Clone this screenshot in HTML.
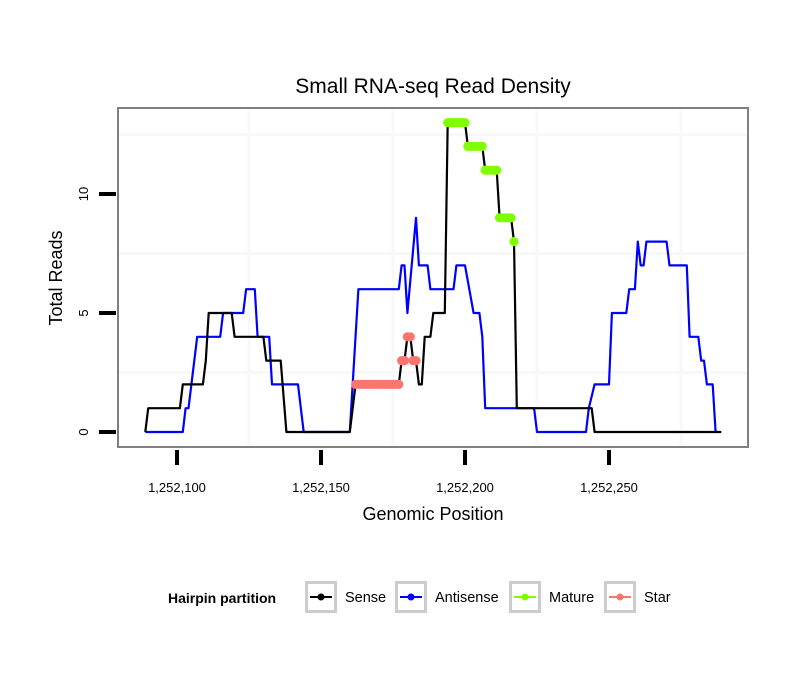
<!DOCTYPE html>
<html><head><meta charset="utf-8"><style>
body{margin:0;background:#fff}
svg{display:block;font-family:"Liberation Sans",sans-serif}
</style></head><body>
<svg id="chart" width="810" height="690">
<rect width="810" height="690" fill="#fff"/>
<text x="433" y="93" font-size="21" text-anchor="middle">Small RNA-seq Read Density</text>
<g id="grid"></g>
<g id="series"></g>
<rect x="118" y="108" width="630" height="339" fill="none" stroke="#808080" stroke-width="2"/>
<g id="axes"></g>
<text x="433" y="520" font-size="18" text-anchor="middle">Genomic Position</text>
<text transform="translate(62,278) rotate(-90)" font-size="18" text-anchor="middle">Total Reads</text>
<g>
<text x="168" y="603" font-size="14" font-weight="bold">Hairpin partition</text>
<g id="legend-entries"></g>
</g>
</svg>
<script>
const xTicks=[1252100,1252150,1252200,1252250];
const xTickLabels=["1,252,100","1,252,150","1,252,200","1,252,250"];
const yTicks=[0,5,10];
const yTickLabels=["0","5","10"];
const xGrid=[1252125,1252175,1252225,1252275];
const yGrid=[2.5,7.5,12.5];
const senseX=[1252089,1252090,1252101,1252102,1252109,1252110,1252111,1252119,1252120,1252130,1252131,1252136,1252138,1252160,1252162,1252177,1252178,1252179,1252180,1252181,1252182,1252183,1252184,1252185,1252186,1252188,1252189,1252193,1252194,1252200,1252201,1252206,1252207,1252211,1252212,1252216,1252217,1252218,1252244,1252245,1252289];
const senseY=[0,1,1,2,2,3,5,5,4,4,3,3,0,0,2,2,3,3,4,4,3,3,2,2,4,4,5,5,13,13,12,12,11,11,9,9,8,1,1,0,0];
const antiX=[1252089,1252102,1252103,1252104,1252107,1252115,1252116,1252123,1252124,1252127,1252128,1252132,1252133,1252142,1252144,1252160,1252163,1252177,1252178,1252179,1252180,1252183,1252184,1252187,1252188,1252196,1252197,1252200,1252203,1252205,1252206,1252207,1252224,1252225,1252242,1252243,1252245,1252250,1252251,1252256,1252257,1252259,1252260,1252261,1252262,1252263,1252270,1252271,1252277,1252278,1252281,1252282,1252283,1252284,1252286,1252287];
const antiY=[0,0,1,1,4,4,5,5,6,6,4,4,2,2,0,0,6,6,7,7,5,9,7,7,6,6,7,7,5,5,4,1,1,0,0,1,2,2,5,5,6,6,8,7,7,8,8,7,7,4,4,3,3,2,2,0];
const matureX=[1252194,1252195,1252196,1252197,1252198,1252199,1252200,1252201,1252202,1252203,1252204,1252205,1252206,1252207,1252208,1252209,1252210,1252211,1252212,1252213,1252214,1252215,1252216,1252217];
const matureY=[13,13,13,13,13,13,13,12,12,12,12,12,12,11,11,11,11,11,9,9,9,9,9,8];
const starX=[1252162,1252163,1252164,1252165,1252166,1252167,1252168,1252169,1252170,1252171,1252172,1252173,1252174,1252175,1252176,1252177,1252178,1252179,1252180,1252181,1252182,1252183];
const starY=[2,2,2,2,2,2,2,2,2,2,2,2,2,2,2,2,3,3,4,4,3,3];
const legendLabels=["Sense","Antisense","Mature","Star"];
const legendColors=["#000000","#0000ff","#7fff00","#f8766d"];

const NS="http://www.w3.org/2000/svg";
function X(v){return 177+(v-1252100)*2.88;}
function Y(v){return 432-v*23.8;}
function mk(tag,attrs,parent){const e=document.createElementNS(NS,tag);for(const k in attrs)e.setAttribute(k,attrs[k]);parent.appendChild(e);return e;}
const grid=document.getElementById('grid'),series=document.getElementById('series'),axes=document.getElementById('axes'),leg=document.getElementById('legend-entries');
xGrid.forEach(v=>{const l=mk('line',{x1:X(v),x2:X(v),y1:109,y2:446,stroke:'#f8f8f8','stroke-width':3},grid);

});
yGrid.forEach(v=>{const l=mk('line',{x1:119,x2:747,y1:Y(v),y2:Y(v),stroke:'#f8f8f8','stroke-width':3},grid);

});
function line(xs,ys,color,name){const p=xs.map((x,i)=>X(x).toFixed(1)+','+Y(ys[i]).toFixed(1)).join(' ');
const e=mk('polyline',{points:p,fill:'none',stroke:color,'stroke-width':2.2,'stroke-linejoin':'round'},series);

}
function dots(xs,ys,color,name){const g=mk('g',{},series);


xs.forEach((x,i)=>{const c=mk('circle',{cx:X(x),cy:Y(ys[i]),r:4.6,fill:color},g);

});}
line(antiX,antiY,'#0000ff','antisense-line');
line(senseX,senseY,'#000000','sense-line');
dots(matureX,matureY,'#7fff00','mature-points');
dots(starX,starY,'#f8766d','star-points');
xTicks.forEach((v,i)=>{const t=mk('line',{x1:X(v),x2:X(v),y1:450,y2:465,stroke:'#000','stroke-width':4},axes);


const s=mk('text',{x:X(v),y:492,'font-size':13,'text-anchor':'middle'},axes);s.textContent=xTickLabels[i];

});
yTicks.forEach((v,i)=>{const t=mk('line',{x1:99,x2:116,y1:Y(v),y2:Y(v),stroke:'#000','stroke-width':4},axes);


const s=mk('text',{transform:`translate(88,${Y(v)}) rotate(-90)`,'font-size':13,'text-anchor':'middle'},axes);s.textContent=yTickLabels[i];

});
const bx=[305,395,509,604];
legendLabels.forEach((lab,i)=>{const g=mk('g',{},leg);


mk('rect',{x:bx[i]+1.5,y:582.5,width:29,height:29,fill:'#fff',stroke:'#cccccc','stroke-width':3},g);
mk('line',{x1:bx[i]+5,x2:bx[i]+27,y1:597,y2:597,stroke:legendColors[i],'stroke-width':2},g);
mk('circle',{cx:bx[i]+16,cy:597,r:3.5,fill:legendColors[i]},g);
const t=mk('text',{x:bx[i]+40,y:602,'font-size':14.5},g);t.textContent=lab;});
</script>
</body></html>
